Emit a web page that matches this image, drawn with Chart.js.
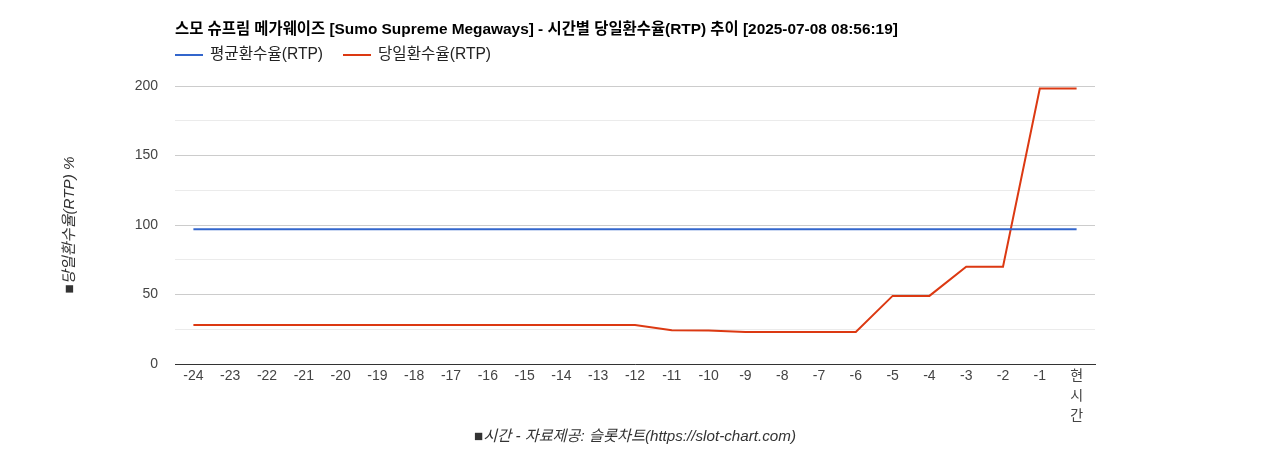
<!DOCTYPE html>
<html>
<head>
<meta charset="utf-8">
<script src="https://cdn.jsdelivr.net/npm/chart.js@4"></script>
<style>
  html, body { margin: 0; padding: 0; background: #fff; }
  #wrap { width: 1268px; height: 450px; position: relative; }
</style>
</head>
<body>
<div id="wrap"><canvas id="rtpChart"></canvas></div>
<script>
const FONT = 'Arial, "Liberation Sans", "Noto Sans CJK KR", sans-serif';

const chartTitle = "스모 슈프림 메가웨이즈 [Sumo Supreme Megaways] - 시간별 당일환수율(RTP) 추이 [2025-07-08 08:56:19]";

const hourLabels = ["-24", "-23", "-22", "-21", "-20", "-19", "-18", "-17", "-16", "-15", "-14", "-13",
  "-12", "-11", "-10", "-9", "-8", "-7", "-6", "-5", "-4", "-3", "-2", "-1", ["현", "시", "간"]];

const avgRtp = [97, 97, 97, 97, 97, 97, 97, 97, 97, 97, 97, 97, 97,
  97, 97, 97, 97, 97, 97, 97, 97, 97, 97, 97, 97];

const dailyRtp = [28, 28, 28, 28, 28, 28, 28, 28, 28, 28, 28, 28, 28,
  24.3, 24.1, 23.1, 23.1, 23.1, 23.1, 49, 49, 70, 70, 198.2, 198.2];

const yTicks = [0, 50, 100, 150, 200];

// title + legend drawn from the chart area's left edge, like the original
const headerPlugin = {
  id: "header",
  afterDraw(chart) {
    const ctx = chart.ctx;
    const left = chart.chartArea.left;
    ctx.save();
    ctx.fillStyle = "#000";
    ctx.font = "bold 15.4px " + FONT;
    ctx.textBaseline = "middle";
    ctx.fillText(chartTitle, left, 30);

    ctx.font = "15.6px " + FONT;
    let x = left;
    chart.data.datasets.forEach(ds => {
      ctx.strokeStyle = ds.borderColor;
      ctx.lineWidth = 2;
      ctx.beginPath();
      ctx.moveTo(x, 55);
      ctx.lineTo(x + 28, 55);
      ctx.stroke();
      ctx.fillStyle = "#222";
      ctx.fillText(ds.label, x + 35, 55);
      x += 35 + ctx.measureText(ds.label).width + 20;
    });
    ctx.restore();
  }
};

new Chart(document.getElementById("rtpChart"), {
  type: "line",
  data: {
    labels: hourLabels,
    datasets: [
      {
        label: "평균환수율(RTP)",
        data: avgRtp,
        borderColor: "#3366cc",
        borderWidth: 2,
        pointRadius: 0,
        tension: 0
      },
      {
        label: "당일환수율(RTP)",
        data: dailyRtp,
        borderColor: "#dc3912",
        borderWidth: 2,
        pointRadius: 0,
        tension: 0
      }
    ]
  },
  options: {
    responsive: true,
    maintainAspectRatio: false,
    animation: false,
    layout: { padding: { top: 86, left: 55, right: 173, bottom: 0 } },
    plugins: {
      legend: { display: false },
      title: { display: false },
      tooltip: { enabled: false }
    },
    scales: {
      x: {
        offset: true,
        grid: { display: false, drawTicks: false },
        border: { color: "#333", width: 1 },
        ticks: {
          color: "#444",
          font: { family: FONT, size: 14, lineHeight: 1.43 },
          maxRotation: 0,
          autoSkip: false,
          padding: 2
        },
        title: {
          display: true,
          text: "■시간 - 자료제공: 슬롯차트(https://slot-chart.com)",
          color: "#333",
          font: { family: FONT, size: 15.2, style: "italic" },
          padding: { top: 0, bottom: 4 }
        },
        afterFit: s => { s.height = 86; }
      },
      y: {
        min: 0,
        max: 200,
        border: { display: false },
        grid: {
          drawTicks: false,
          color: c => (yTicks.includes(c.tick.value) ? "#cccccc" : "#ebebeb")
        },
        ticks: {
          stepSize: 25,
          padding: 17,
          color: "#444",
          font: { family: FONT, size: 14 },
          callback: v => (yTicks.includes(v) ? v : "")
        },
        title: {
          display: true,
          text: "■당일환수율(RTP) %",
          color: "#333",
          font: { family: FONT, size: 15.2, style: "italic" },
          padding: { top: 6, bottom: 0 }
        },
        afterFit: s => { s.width = 120; }
      }
    }
  },
  plugins: [headerPlugin]
});
</script>
</body>
</html>
